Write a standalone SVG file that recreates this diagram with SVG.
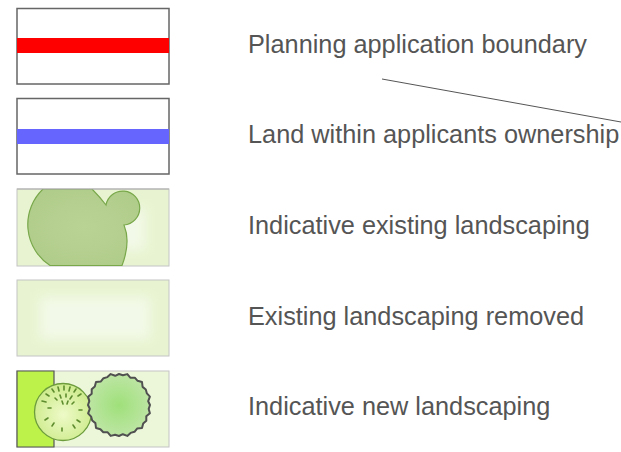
<svg xmlns="http://www.w3.org/2000/svg" width="621" height="452" viewBox="0 0 621 452">
  <style>
    .lbl { font-family: "Liberation Sans", Arial, sans-serif; font-size: 25.3px; fill: #555; }
    .plain { fill: #fff; stroke: #666; stroke-width: 1.5; }
    .soft { stroke: #c4c4c4; stroke-width: 1; }
    .conn { stroke: #555; stroke-width: 1; fill: none; }
    .dash { stroke: #5e8c2e; stroke-width: 1.6; stroke-linecap: round; }
  </style>
  <defs>
    <radialGradient id="blobG" cx="0.5" cy="0.5" r="0.6">
      <stop offset="0" stop-color="#b9d395"/>
      <stop offset="1" stop-color="#b0cc8a"/>
    </radialGradient>
    <radialGradient id="tree1" cx="0.5" cy="0.55" r="0.55">
      <stop offset="0" stop-color="#eefac8"/>
      <stop offset="1" stop-color="#cdeb8c"/>
    </radialGradient>
    <radialGradient id="tree2" cx="0.5" cy="0.5" r="0.55">
      <stop offset="0" stop-color="#9fe07a"/>
      <stop offset="1" stop-color="#c0e6a8"/>
    </radialGradient>
    <filter id="blur" x="-20%" y="-20%" width="140%" height="140%">
      <feGaussianBlur stdDeviation="6"/>
    </filter>
    <clipPath id="clip3"><rect x="17" y="189" width="152" height="77"/></clipPath>
  </defs>

  <g id="connectors">
    <line class="conn" x1="382" y1="79" x2="621" y2="122"/>
  </g>

  <g id="planning-boundary">
    <rect class="plain" x="17" y="8.5" width="152" height="75.5"/>
    <rect x="17" y="38" width="152" height="15" fill="#ff0000"/>
    <text class="lbl" x="248" y="53">Planning application boundary</text>
  </g>

  <g id="ownership">
    <rect class="plain" x="17" y="98.5" width="152" height="75.5"/>
    <rect x="17" y="129" width="152" height="15" fill="#6666ff"/>
    <text class="lbl" x="248" y="143">Land within applicants ownership</text>
  </g>

  <g id="existing-landscaping">
    <rect class="soft" x="17" y="189" width="152" height="77" fill="#e8f4d1"/>
    <rect x="45" y="208" width="100" height="42" fill="#f3f9e8" filter="url(#blur)"/>
    <g clip-path="url(#clip3)">
      <path d="M43,189 L92,189 Q100,197 106,205 A17,17 0 1 1 124,225 Q131,242 122,265.5 L50,265.5 A49,49 0 0 1 43,189 Z" fill="url(#blobG)" stroke="#79a84b" stroke-width="1.2"/>
    </g>
    <line x1="17" y1="189" x2="169" y2="189" stroke="#aaa" stroke-width="1"/>
    <text class="lbl" x="248" y="234">Indicative existing landscaping</text>
  </g>

  <g id="landscaping-removed">
    <rect class="soft" x="17" y="280" width="152" height="76" fill="#e8f4d1"/>
    <rect x="40" y="297" width="110" height="42" fill="#f3f9e8" filter="url(#blur)"/>
    <text class="lbl" x="248" y="325">Existing landscaping removed</text>
  </g>

  <g id="new-landscaping">
    <rect class="soft" x="17" y="371" width="152" height="76" fill="#ecf7da"/>
    <path d="M17,447 L17,371 L54,371 L54,447 Z" fill="#bdf24b" stroke="#555" stroke-width="1.2"/>
    <circle cx="63" cy="412" r="28.5" fill="url(#tree1)" stroke="#6c9c3c" stroke-width="1.3"/>
    <g>
      <line class="dash" x1="52" y1="389" x2="54" y2="392"/>
      <line class="dash" x1="58" y1="387" x2="59" y2="391"/>
      <line class="dash" x1="64" y1="386" x2="64" y2="390"/>
      <line class="dash" x1="70" y1="387" x2="69" y2="391"/>
      <line class="dash" x1="76" y1="389" x2="74" y2="392"/>
      <line class="dash" x1="46" y1="394" x2="49" y2="396"/>
      <line class="dash" x1="81" y1="394" x2="78" y2="396"/>
      <line class="dash" x1="42" y1="401" x2="46" y2="402"/>
      <line class="dash" x1="60" y1="395" x2="61" y2="398"/>
      <line class="dash" x1="66" y1="394" x2="66" y2="397"/>
      <line class="dash" x1="72" y1="396" x2="70" y2="399"/>
      <line class="dash" x1="55" y1="398" x2="57" y2="400"/>
      <line class="dash" x1="62" y1="401" x2="63" y2="404"/>
      <line class="dash" x1="68" y1="401" x2="67" y2="404"/>
      <line class="dash" x1="74" y1="402" x2="72" y2="404"/>
      <line class="dash" x1="48" y1="408" x2="51" y2="408"/>
      <line class="dash" x1="82" y1="410" x2="79" y2="410"/>
      <line class="dash" x1="45" y1="420" x2="48" y2="418"/>
      <line class="dash" x1="80" y1="422" x2="77" y2="420"/>
      <line class="dash" x1="52" y1="426" x2="54" y2="423"/>
      <line class="dash" x1="75" y1="428" x2="73" y2="425"/>
      <line class="dash" x1="62" y1="431" x2="62" y2="428"/>
    </g>
    <path d="M150,405 L148.7,408.9 L149.9,413.3 L146.3,416.3 L146.3,420.8 L143.2,423.6 L142,428 L137.1,428.6 L134.5,431.8 L130.6,432.9 L127.3,435.9 L122.8,434.2 L119,436 L115.1,434.7 L110.7,435.9 L107.7,432.3 L103.3,432.3 L100.4,429.2 L96,428 L95.4,423.1 L92.2,420.5 L91.1,416.6 L88.1,413.3 L89.8,408.8 L88,405 L89.3,401.1 L88.1,396.7 L91.7,393.7 L91.7,389.3 L94.8,386.4 L96,382 L100.9,381.4 L103.5,378.2 L107.4,377.1 L110.7,374.1 L115.2,375.8 L119,374 L122.9,375.3 L127.3,374.1 L130.3,377.7 L134.8,377.7 L137.6,380.8 L142,382 L142.6,386.9 L145.8,389.5 L146.9,393.4 L149.9,396.7 L148.2,401.2 Z" fill="url(#tree2)" stroke="#505050" stroke-width="2" stroke-linejoin="round"/>
    <text class="lbl" x="248" y="415">Indicative new landscaping</text>
  </g>
</svg>
